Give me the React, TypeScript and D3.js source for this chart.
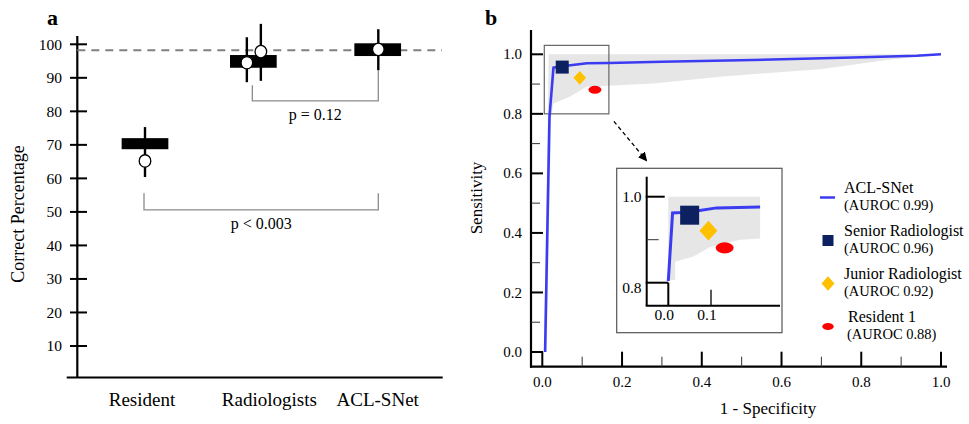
import React from 'react';
import * as d3 from 'd3';

// ---------- Panel a data ----------
const categories = ['Resident', 'Radiologists', 'ACL-SNet'];
const boxLow = [68.7, 93.0, 96.5];
const boxHigh = [72.0, 96.8, 100.3];
const readers = ['Resident 1', 'Junior Radiologist', 'Senior Radiologist', 'ACL-SNet'];
const readerCategory = ['Resident', 'Radiologists', 'Radiologists', 'ACL-SNet'];
const readerValue = [65.2, 94.5, 97.8, 98.5];
const readerLow = [60.4, 88.7, 89.1, 92.3];
const readerHigh = [75.3, 102.1, 106.1, 104.5];
const referenceValue = 98.2;
const yTicksA = [10, 20, 30, 40, 50, 60, 70, 80, 90, 100];
const pLabels = ['p = 0.12', 'p < 0.003'];
const pFrom = ['Radiologists', 'Resident'];
const pTo = ['ACL-SNet', 'ACL-SNet'];
const pLeftTop = [87.8, 55.6];
const pRightTop = [92.3, 55.6];
const pBottom = [83.1, 50.6];

// ---------- Panel b data ----------
const rocFpr = [0.007, 0.018, 0.028, 0.05, 0.112, 0.166, 0.3, 0.528, 0.779, 0.939, 1.0];
const rocTpr = [0.0, 0.79, 0.955, 0.96, 0.97, 0.971, 0.975, 0.981, 0.989, 0.995, 1.0];
const bandUpperFpr = [0.004, 0.014, 0.016, 1.0];
const bandUpperTpr = [0.0, 0.79, 1.0, 1.0];
const bandLowerFpr = [1.0, 0.939, 0.864, 0.696, 0.446, 0.278, 0.111, 0.07, 0.028, 0.022, 0.011];
const bandLowerTpr = [1.0, 0.992, 0.981, 0.95, 0.925, 0.902, 0.891, 0.858, 0.835, 0.79, 0.0];
const insetFpr = [0.0, 0.01, 0.03, 0.066, 0.113, 0.215];
const insetTpr = [0.804, 0.962, 0.963, 0.967, 0.974, 0.976];
const insetBandUpperFpr = [0.0, 0.0, 0.215];
const insetBandUpperTpr = [0.806, 1.0, 1.0];
const insetBandLowerFpr = [0.215, 0.215, 0.168, 0.098, 0.059, 0.016, 0.016];
const insetBandLowerTpr = [1.0, 0.903, 0.9, 0.883, 0.861, 0.849, 0.806];
const observerNames = ['Senior Radiologist', 'Junior Radiologist', 'Resident 1'];
const observerFpr = [0.05, 0.094, 0.132];
const observerTpr = [0.957, 0.921, 0.881];
const observerColors = ['#0d2160', '#ffc000', '#ff0000'];
const legendLabels = ['ACL-SNet', 'Senior Radiologist', 'Junior Radiologist', 'Resident 1'];
const legendAuroc = ['0.99', '0.96', '0.92', '0.88'];
const xTicksB = [0, 0.2, 0.4, 0.6, 0.8, 1.0];
const xMinorB = [0.1, 0.3, 0.5, 0.7, 0.9];
const yTicksB = [0, 0.2, 0.4, 0.6, 0.8, 1.0];
const yMinorB = [0.1, 0.3, 0.5, 0.7, 0.9];
const zoomFpr = [0.005, 0.167];
const zoomTpr = [0.8, 1.03];
const insetXTicks = [0.0, 0.1];
const insetYTicks = [0.8, 1.0];

const FONT = "'Liberation Serif', Tinos, 'Times New Roman', Times, 'DejaVu Serif', 'Noto Serif', serif";
const BLUE = '#3b3bf2';
const BAND = '#e6e6e6';

function Marker({ kind, x, y, s }: { kind: number; x: number; y: number; s: number }) {
  if (kind === 0) return <rect x={x - s / 2} y={y - s / 2} width={s} height={s} fill={observerColors[0]} />;
  if (kind === 1)
    return (
      <path
        d={`M${x},${y - s * 0.55}L${x + s * 0.5},${y}L${x},${y + s * 0.55}L${x - s * 0.5},${y}Z`}
        fill={observerColors[1]}
      />
    );
  return <ellipse cx={x} cy={y} rx={s * 0.5} ry={s * 0.31} fill={observerColors[2]} />;
}

export default function App() {
  // ----- panel a scales -----
  const xA = d3.scalePoint<string>().domain(categories).range([145, 377.7]);
  const yA = d3.scaleLinear().domain([0, 100]).range([379.5, 44.3]);
  const boxShift: Record<string, number> = { Resident: 0, Radiologists: -8, 'ACL-SNet': 0 };
  const labelShift: Record<string, number> = { Resident: -3, Radiologists: 8, 'ACL-SNet': 0 };
  const readerShift = [0, -14.5, -0.5, 0.6];
  const boxW = 46.7;
  const boxCenter = (c: string) => (xA(c) as number) + boxShift[c];

  // ----- panel b scales -----
  const xB = d3.scaleLinear().domain([0, 1]).range([542.3, 941]);
  const yB = d3.scaleLinear().domain([0, 1]).range([352, 54.3]);
  const xI = d3.scaleLinear().domain([0, 0.1]).range([668.3, 711]);
  const yI = d3.scaleLinear().domain([0.8, 1.0]).range([282.7, 196.7]);

  const lineB = d3
    .line<number>()
    .x((_, i) => xB(rocFpr[i]))
    .y((_, i) => yB(rocTpr[i]));
  const bandPts: [number, number][] = [
    ...bandUpperFpr.map((f, i) => [xB(f), yB(bandUpperTpr[i])] as [number, number]),
    ...bandLowerFpr.map((f, i) => [xB(f), yB(bandLowerTpr[i])] as [number, number]),
  ];
  const poly = d3.line();
  const insetLine = d3
    .line<number>()
    .x((_, i) => xI(insetFpr[i]))
    .y((_, i) => yI(insetTpr[i]));
  const insetBandPts: [number, number][] = [
    ...insetBandUpperFpr.map((f, i) => [xI(f), yI(insetBandUpperTpr[i])] as [number, number]),
    ...insetBandLowerFpr.map((f, i) => [xI(f), yI(insetBandLowerTpr[i])] as [number, number]),
  ];

  const axB = 531;
  const ayB = 366.7;

  const zx0 = xB(zoomFpr[0]);
  const zx1 = xB(zoomFpr[1]);
  const zy0 = yB(zoomTpr[1]);
  const zy1 = yB(zoomTpr[0]);

  const insetLeft = 616.7;
  const insetTop = 168.3;
  const insetRight = 782;
  const insetBottom = 332.7;
  const iaX = 646.7;
  const iaY = 305.7;

  const tx = { fontFamily: FONT } as React.CSSProperties;

  return (
    <svg
      width={969}
      height={424}
      style={{ position: 'absolute', left: 0, top: 0, background: '#fff', fontFamily: FONT }}
    >
      <defs>
        <marker id="arr" viewBox="0 0 10 10" refX="8" refY="5" markerWidth="7" markerHeight="7" orient="auto">
          <path d="M0,0L10,5L0,10Z" fill="#000" />
        </marker>
      </defs>
      <rect width={969} height={424} fill="#fff" />

      {/* ================= Panel a ================= */}
      <text style={tx} x={47} y={25} fontSize={22} fontWeight="bold">a</text>
      <text
        style={tx}
        transform={`translate(20,214) rotate(-90)`}
        textAnchor="middle"
        fontSize={18}
        dominantBaseline="middle"
      >
        Correct Percentage
      </text>
      <line x1={77.3} x2={77.3} y1={36} y2={378} stroke="#000" strokeWidth={2.2} />
      <line x1={66.7} x2={442.7} y1={377.5} y2={377.5} stroke="#000" strokeWidth={2.2} />
      {yTicksA.map((t) => (
        <g key={t}>
          <line x1={70} x2={87} y1={yA(t)} y2={yA(t)} stroke="#000" strokeWidth={2} />
          <text style={tx} x={62} y={yA(t)} dy="0.34em" textAnchor="end" fontSize={15.5}>
            {t}
          </text>
        </g>
      ))}
      {categories.map((c) => (
        <text style={tx} key={c} x={(xA(c) as number) + labelShift[c]} y={406} textAnchor="middle" fontSize={19}>
          {c}
        </text>
      ))}
      <line
        x1={77.3}
        x2={442}
        y1={yA(referenceValue)}
        y2={yA(referenceValue)}
        stroke="#808080"
        strokeWidth={2}
        strokeDasharray="8,6"
      />
      {pLabels.map((p, i) => {
        const xl = boxCenter(pFrom[i]) - 1;
        const xr = boxCenter(pTo[i]) + 0.6;
        return (
          <g key={p}>
            <path
              d={`M${xl},${yA(pLeftTop[i])}V${yA(pBottom[i])}H${xr}V${yA(pRightTop[i])}`}
              fill="none"
              stroke="#8c8c8c"
              strokeWidth={1.3}
            />
            <text style={tx} x={(xl + xr) / 2} y={yA(pBottom[i]) + 19} textAnchor="middle" fontSize={16}>
              {p}
            </text>
          </g>
        );
      })}
      {categories.map((c, i) => (
        <rect
          key={c}
          x={boxCenter(c) - boxW / 2}
          y={yA(boxHigh[i])}
          width={boxW}
          height={yA(boxLow[i]) - yA(boxHigh[i])}
          fill="#000"
        />
      ))}
      {readers.map((r, i) => {
        const x = (xA(readerCategory[i]) as number) + readerShift[i];
        return (
          <line key={r} x1={x} x2={x} y1={yA(readerHigh[i])} y2={yA(readerLow[i])} stroke="#000" strokeWidth={2.4} />
        );
      })}
      {readers.map((r, i) => {
        const x = (xA(readerCategory[i]) as number) + readerShift[i];
        return <ellipse key={r} cx={x} cy={yA(readerValue[i])} rx={5.8} ry={6.2} fill="#fff" stroke="#000" strokeWidth={1.3} />;
      })}

      {/* ================= Panel b ================= */}
      <text style={tx} x={485} y={25} fontSize={22} fontWeight="bold">b</text>
      <text
        style={tx}
        transform={`translate(478,198) rotate(-90)`}
        textAnchor="middle"
        dominantBaseline="middle"
        fontSize={17}
      >
        Sensitivity
      </text>
      <text style={tx} x={768} y={414} textAnchor="middle" fontSize={17}>
        1 - Specificity
      </text>

      <path d={poly(bandPts) + 'Z'} fill={BAND} />
      <rect x={zx0} y={zy0} width={zx1 - zx0} height={zy1 - zy0} fill="none" stroke="#666" strokeWidth={1.2} />
      <path d={lineB(rocFpr) as string} fill="none" stroke={BLUE} strokeWidth={2.6} />
      {observerNames.map((n, i) => (
        <Marker key={n} kind={i} x={xB(observerFpr[i])} y={yB(observerTpr[i])} s={i === 0 ? 13 : i === 1 ? 12.5 : 13} />
      ))}

      <line x1={axB} x2={axB} y1={30} y2={ayB + 1} stroke="#000" strokeWidth={2.2} />
      <line x1={axB - 1} x2={947} y1={ayB} y2={ayB} stroke="#000" strokeWidth={2.2} />
      {yTicksB.map((t) => (
        <g key={'y' + t}>
          <line x1={axB} x2={axB + 12} y1={yB(t)} y2={yB(t)} stroke="#000" strokeWidth={2} />
          <text style={tx} x={522} y={yB(t)} dy="0.34em" textAnchor="end" fontSize={15}>
            {t.toFixed(1)}
          </text>
        </g>
      ))}
      {yMinorB.map((t) => (
        <line key={'ym' + t} x1={axB} x2={axB + 9} y1={yB(t)} y2={yB(t)} stroke="#333" strokeWidth={1} />
      ))}
      {xTicksB.map((t) => (
        <g key={'x' + t}>
          <line x1={xB(t)} x2={xB(t)} y1={ayB} y2={ayB - 15} stroke="#000" strokeWidth={2} />
          <text style={tx} x={xB(t)} y={387} textAnchor="middle" fontSize={15}>
            {t.toFixed(1)}
          </text>
        </g>
      ))}
      {xMinorB.map((t) => (
        <line key={'xm' + t} x1={xB(t)} x2={xB(t)} y1={ayB} y2={ayB - 10} stroke="#333" strokeWidth={1} />
      ))}

      <line
        x1={zx1 + 5}
        y1={zy1 + 7.5}
        x2={646}
        y2={160}
        stroke="#000"
        strokeWidth={1.3}
        strokeDasharray="4,3"
        markerEnd="url(#arr)"
      />

      <rect
        x={insetLeft}
        y={insetTop}
        width={insetRight - insetLeft}
        height={insetBottom - insetTop}
        fill="#fff"
        stroke="#555"
        strokeWidth={1.2}
      />
      <path d={poly(insetBandPts) + 'Z'} fill={BAND} />
      <path d={insetLine(insetFpr) as string} fill="none" stroke={BLUE} strokeWidth={3} />
      {observerNames.map((n, i) => (
        <Marker key={'i' + n} kind={i} x={xI(observerFpr[i])} y={yI(observerTpr[i])} s={i === 0 ? 19 : 18} />
      ))}
      <line x1={iaX} x2={iaX} y1={176.7} y2={iaY} stroke="#000" strokeWidth={2} />
      <line x1={iaX - 1} x2={insetRight - 2} y1={iaY} y2={iaY} stroke="#000" strokeWidth={2} />
      {insetYTicks.map((t) => (
        <g key={'iy' + t}>
          <line x1={iaX - 1} x2={t === 0.8 ? xI(0) : iaX + 18} y1={yI(t)} y2={yI(t)} stroke="#000" strokeWidth={2} />
          <text style={tx} x={641.5} y={yI(t) + (t === 0.8 ? 5 : 0)} dy="0.34em" textAnchor="end" fontSize={15.5}>
            {t.toFixed(1)}
          </text>
        </g>
      ))}
      <line x1={iaX} x2={iaX + 12} y1={yI(0.9)} y2={yI(0.9)} stroke="#333" strokeWidth={1} />
      {insetXTicks.map((t) => (
        <g key={'ix' + t}>
          <line
            x1={xI(t)}
            x2={xI(t)}
            y1={iaY}
            y2={t === 0 ? yI(0.8) : iaY - 16}
            stroke="#000"
            strokeWidth={t === 0 ? 2 : 1.3}
          />
          <text style={tx} x={xI(t) - 4} y={319.5} textAnchor="middle" fontSize={15.5}>
            {t.toFixed(1)}
          </text>
        </g>
      ))}

      {legendLabels.map((l, i) => {
        const base = 193 + i * 43;
        const mx = 828;
        const my = base + 4.5;
        return (
          <g key={'lg' + l}>
            {i === 0 ? (
              <line x1={820} x2={835} y1={my} y2={my} stroke={BLUE} strokeWidth={2.5} />
            ) : (
              <Marker kind={i - 1} x={mx} y={my} s={i === 1 ? 11 : i === 2 ? 13 : 11.5} />
            )}
            <text style={tx} x={i === 3 ? 848 : 844} y={base} fontSize={16}>
              {l}
            </text>
            <text style={tx} x={i === 3 ? 847 : 844} y={base + 17} fontSize={14.5}>
              (AUROC {legendAuroc[i]})
            </text>
          </g>
        );
      })}
    </svg>
  );
}
